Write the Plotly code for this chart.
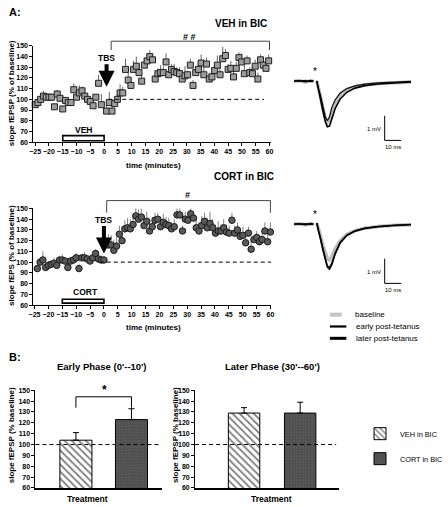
import plotly.graph_objects as go

W, H = 448, 507
FONT = "Liberation Sans"


def px(x):
    return x / W


def py(y):
    return 1 - y / H


# ---------------- data ----------------
TIME_TICKS = list(range(-25, 61, 5))
Y_TICKS = list(range(60, 151, 10))

# VEH in BIC time course (slope fEPSP, % of baseline)
VEH_T_PRE = list(range(-25, 0))
VEH_PRE = [95, 97, 100, 103, 102, 102, 102, 93, 105, 101, 91, 99, 97, 97, 109,
           102, 106, 108, 103, 100, 98, 94, 102, 115, 95]
VEH_PRE_ERR = [3, 3, 3, 5, 3, 3, 3, 0, 4, 3, 0, 3, 0, 3, 6, 4, 7, 4, 3, 3,
               0, 5, 0, 8, 10]
VEH_T_POST = [round(0.9 + 0.98 * i, 2) for i in range(61)]
VEH_POST = [89, 97, 89, 96, 100, 106, 106, 128, 118, 113, 128, 131, 125,
            117, 132, 136, 140, 137, 119, 124, 125, 125, 135, 123, 128, 126,
            125, 124, 119, 122, 123, 132, 113, 125, 128, 134, 123, 133, 119,
            121, 127, 132, 123, 138, 141, 128, 129, 121, 129, 139, 135, 124,
            136, 125, 124, 131, 119, 137, 132, 129, 136]
VEH_POST_ERR = [7, 10, 6, 5, 4, 8, 6, 10, 8, 6, 8, 9, 7, 5, 6, 5, 6, 4, 5, 5,
                7, 6, 8, 5, 5, 7, 5, 6, 6, 9, 4, 6, 5, 5, 6, 8, 9, 6, 6, 5,
                6, 9, 7, 11, 6, 5, 7, 5, 6, 5, 8, 8, 5, 5, 6, 6, 6, 5, 5, 7, 6]

# CORT in BIC time course
CORT_T_PRE = list(range(-24, 1))
CORT_PRE = [94, 100, 102, 95, 97, 98, 99, 97, 102, 102, 101, 95, 101, 102,
            104, 94, 104, 104, 103, 101, 104, 108, 103, 102, 102]
CORT_PRE_ERR = [0, 2, 8, 0, 4, 0, 5, 0, 0, 5, 3, 0, 3, 0, 4, 4, 0, 5, 0, 4,
                3, 4, 0, 4, 3]
CORT_T_POST = [round(0.6 + 0.99 * i, 2) for i in range(61)]
CORT_POST = [116, 116, 116, 111, 115, 126, 120, 131, 132, 131, 135, 143, 140,
             142, 134, 138, 129, 133, 139, 140, 133, 137, 135, 134, 131, 133,
             144, 144, 129, 140, 139, 145, 141, 132, 129, 134, 138, 132, 136,
             132, 127, 129, 129, 132, 128, 127, 139, 127, 130, 124, 125, 118,
             127, 112, 121, 123, 119, 121, 129, 119, 128]
CORT_POST_ERR = [8, 10, 9, 10, 8, 8, 8, 8, 9, 9, 9, 8, 9, 8, 10, 9, 10, 9, 7,
                 6, 8, 8, 7, 7, 6, 7, 8, 8, 5, 7, 7, 6, 6, 9, 8, 9, 8, 9, 11,
                 8, 8, 9, 6, 8, 7, 7, 7, 7, 7, 7, 8, 6, 6, 9, 4, 6, 6, 7, 8,
                 7, 9]

# fEPSP sample traces (ms, mV)
WAVE_T = [-13, -10, -6, -3, -1.2, None, 0.8, 1.5, 3, 4.5, 6, 7.2, 8.5, 10,
          12, 15, 19, 24, 30, 38, 48, 58]
VEH_BASE_WAVE = [0, 0.03, -0.03, 0.02, 0, None, 0.0, -0.25, -0.6, -1.1, -1.5,
                 -1.66, -1.55, -1.2, -0.85, -0.55, -0.35, -0.22, -0.14, -0.09,
                 -0.05, -0.03]
VEH_EARLY_WAVE = [0.02, 0, 0.03, -0.02, 0.02, None, 0.02, -0.22, -0.55, -1.05,
                  -1.45, -1.6, -1.45, -1.05, -0.75, -0.48, -0.3, -0.19, -0.12,
                  -0.07, -0.03, -0.01]
VEH_LATER_WAVE = [0, 0.02, -0.02, 0.03, 0, None, 0, -0.25, -0.65, -1.2, -1.65,
                  -1.85, -1.82, -1.5, -1.1, -0.72, -0.45, -0.28, -0.18, -0.11,
                  -0.06, -0.03]
CORT_BASE_WAVE = [0, 0.02, -0.02, 0.02, 0, None, 0.05, -0.15, -0.45, -0.85,
                  -1.2, -1.4, -1.45, -1.3, -1.0, -0.68, -0.42, -0.26, -0.16,
                  -0.09, -0.04, -0.02]
CORT_EARLY_WAVE = [0.02, 0, 0.02, -0.02, 0.02, None, 0.05, -0.2, -0.55, -1.0,
                   -1.42, -1.68, -1.75, -1.55, -1.15, -0.72, -0.44, -0.27,
                   -0.16, -0.09, -0.04, -0.01]
CORT_LATER_WAVE = [0, 0.02, -0.02, 0.03, 0, None, 0.05, -0.2, -0.58, -1.05,
                   -1.48, -1.74, -1.82, -1.62, -1.2, -0.76, -0.46, -0.28,
                   -0.17, -0.1, -0.05, -0.02]
SCALE_MV = 1
SCALE_MS = 10

# Panel B summary bars
TREAT = ["VEH in BIC", "CORT in BIC"]
EARLY = [104, 123]
EARLY_ERR = [7, 10]
LATER = [129, 129]
LATER_ERR = [5, 10]

# ---------------- figure ----------------
fig = go.Figure()

GREY_SQ = "#9c9c9c"
DARK_CIRC = "#5a5a5a"


def up_err(arr, color):
    return dict(type="data", symmetric=False, array=arr,
                arrayminus=[0] * len(arr), color=color, thickness=1, width=0)


fig.add_trace(go.Scatter(
    x=VEH_T_PRE + VEH_T_POST, y=VEH_PRE + VEH_POST, mode="markers",
    marker=dict(symbol="square", size=6, color=GREY_SQ,
                line=dict(color="#202020", width=1)),
    error_y=up_err(VEH_PRE_ERR + VEH_POST_ERR, "#666666"),
    xaxis="x", yaxis="y", showlegend=False, cliponaxis=False))

fig.add_trace(go.Scatter(
    x=CORT_T_PRE + CORT_T_POST, y=CORT_PRE + CORT_POST, mode="markers",
    marker=dict(symbol="circle", size=6.5, color=DARK_CIRC,
                line=dict(color="#1a1a1a", width=1)),
    error_y=up_err(CORT_PRE_ERR + CORT_POST_ERR, "#808080"),
    xaxis="x2", yaxis="y2", showlegend=False, cliponaxis=False))

# sample traces
for (xa, ya, base, early, later) in [("x3", "y3", VEH_BASE_WAVE, VEH_EARLY_WAVE, VEH_LATER_WAVE),
                                      ("x4", "y4", CORT_BASE_WAVE, CORT_EARLY_WAVE, CORT_LATER_WAVE)]:
    fig.add_trace(go.Scatter(x=WAVE_T, y=base, mode="lines",
                             line=dict(color="#bdbdbd", width=3.5),
                             xaxis=xa, yaxis=ya, showlegend=False))
    fig.add_trace(go.Scatter(x=WAVE_T, y=early, mode="lines",
                             line=dict(color="#111111", width=1.2),
                             xaxis=xa, yaxis=ya, showlegend=False))
    fig.add_trace(go.Scatter(x=WAVE_T, y=later, mode="lines",
                             line=dict(color="#000000", width=1.6),
                             xaxis=xa, yaxis=ya, showlegend=False))
    # scale bar
    fig.add_trace(go.Scatter(x=[42, 42, 42 + SCALE_MS],
                             y=[-1.4, -1.4 - SCALE_MV, -1.4 - SCALE_MV],
                             mode="lines", line=dict(color="black", width=1),
                             xaxis=xa, yaxis=ya, showlegend=False))

# bars
VEH_BAR = dict(color="white", line=dict(color="black", width=1),
               pattern=dict(shape="\\", fgcolor="black", bgcolor="white",
                            size=5, solidity=0.35))
CORT_BAR = dict(color="#505050", line=dict(color="black", width=1),
                pattern=dict(shape=".", fgcolor="#2e2e2e", bgcolor="#5a5a5a",
                             size=3, solidity=0.35))


def bar_err(v):
    return dict(type="data", symmetric=False, array=[v], arrayminus=[0],
                color="black", thickness=1, width=3)


fig.add_trace(go.Bar(x=[TREAT[0]], y=[EARLY[0]], width=0.577, marker=VEH_BAR,
                     error_y=bar_err(EARLY_ERR[0]), xaxis="x5", yaxis="y5",
                     name=TREAT[0], legendgroup="veh", showlegend=True))
fig.add_trace(go.Bar(x=[TREAT[1]], y=[EARLY[1]], width=0.577, marker=CORT_BAR,
                     error_y=bar_err(EARLY_ERR[1]), xaxis="x5", yaxis="y5",
                     name=TREAT[1], legendgroup="cort", showlegend=True))
fig.add_trace(go.Bar(x=[TREAT[0]], y=[LATER[0]], width=0.56, marker=VEH_BAR,
                     error_y=bar_err(LATER_ERR[0]), xaxis="x6", yaxis="y6",
                     name=TREAT[0], legendgroup="veh", showlegend=False))
fig.add_trace(go.Bar(x=[TREAT[1]], y=[LATER[1]], width=0.56, marker=CORT_BAR,
                     error_y=bar_err(LATER_ERR[1]), xaxis="x6", yaxis="y6",
                     name=TREAT[1], legendgroup="cort", showlegend=False))

# ---------------- axes ----------------
TICKFONT = dict(family=FONT, size=7, color="black", weight="bold")


def yax(dom):
    return dict(domain=dom, range=[60, 150], tickvals=Y_TICKS, ticks="outside",
                ticklen=3, tickwidth=1, tickcolor="black", showline=True,
                linecolor="black", linewidth=1, showgrid=False, zeroline=False,
                tickfont=TICKFONT, fixedrange=True)


def xtime(dom, rng, anchor):
    return dict(domain=dom, range=rng, tickvals=TIME_TICKS, ticks="outside",
                ticklen=3, tickwidth=1, tickcolor="black", showline=True,
                linecolor="black", linewidth=1, showgrid=False, zeroline=False,
                tickangle=0,
                tickfont=dict(family=FONT, size=7, color="black", weight="bold"),
                anchor=anchor, fixedrange=True)


def hidden(dom, rng, anchor):
    return dict(domain=dom, range=rng, visible=False, anchor=anchor,
                fixedrange=True)


def xbar(dom, rng, anchor):
    return dict(domain=dom, range=rng, type="category", categoryorder="array",
                categoryarray=TREAT, showticklabels=False, ticks="",
                showline=True, linecolor="black", linewidth=1.5,
                showgrid=False, zeroline=False, anchor=anchor, fixedrange=True)


WAVE_XR = [-21.8, 60.4]
WAVE_YR = [-2.668, 0.932]

fig.update_layout(
    xaxis=xtime([px(31), px(291)], [-25.66, 60.66], "y"),
    yaxis=yax([py(140), py(42.5)]) | dict(anchor="x"),
    xaxis2=xtime([px(31), px(291)], [-25.43, 60.33], "y2"),
    yaxis2=yax([py(305.3), py(207.3)]) | dict(anchor="x2"),
    xaxis3=hidden([px(300), px(448)], WAVE_XR, "y3"),
    yaxis3=hidden([py(145), py(55)], WAVE_YR, "x3"),
    xaxis4=hidden([px(300), px(448)], WAVE_XR, "y4"),
    yaxis4=hidden([py(290), py(200)], WAVE_YR, "x4"),
    xaxis5=xbar([px(33.3), px(172)], [-0.728, 1.557], "y5"),
    yaxis5=yax([py(490.7), py(391.7)]) | dict(anchor="x5"),
    xaxis6=xbar([px(207.7), px(365)], [-0.873, 1.693], "y6"),
    yaxis6=yax([py(490.7), py(391.7)]) | dict(anchor="x6"),
)

# ---------------- shapes ----------------
shapes = []
DASH = "4px,3px"
# baseline (100 %) dashed lines
shapes.append(dict(type="line", xref="x", yref="y", x0=1.5, x1=58, y0=100, y1=100,
                   line=dict(color="black", width=1, dash=DASH)))
shapes.append(dict(type="line", xref="x2", yref="y2", x0=-1.5, x1=60.3, y0=100, y1=100,
                   line=dict(color="black", width=1, dash=DASH)))
shapes.append(dict(type="line", xref="x5 domain", yref="y5", x0=0, x1=0.985, y0=100, y1=100,
                   line=dict(color="black", width=1, dash=DASH)))
shapes.append(dict(type="line", xref="x6 domain", yref="y6", x0=0, x1=0.98, y0=100, y1=100,
                   line=dict(color="black", width=1, dash=DASH)))
# drug application bars
shapes.append(dict(type="rect", xref="x", yref="y", x0=-15, x1=0, y0=61.2, y1=66,
                   line=dict(color="black", width=1.6), fillcolor="white"))
shapes.append(dict(type="rect", xref="x2", yref="y2", x0=-15, x1=0, y0=61.8, y1=65.5,
                   line=dict(color="black", width=1.6), fillcolor="white"))


def dom(v):
    return (v - 60) / 90


# significance brackets over the time courses
for xr, yr, x0, x1, ytop, ybot in [("x", "y domain", 2.56, 60, 154.4, 146.1),
                                     ("x2", "y2 domain", 1.0, 60, 157.3, 146.0)]:
    shapes.append(dict(type="path", xref=xr, yref=yr,
                       path=f"M {x0},{dom(ybot)} L {x0},{dom(ytop)} L {x1},{dom(ytop)} L {x1},{dom(ybot)}",
                       line=dict(color="#444444", width=1)))
# early-phase significance bracket
shapes.append(dict(type="path", xref="x5", yref="y5",
                   path="M 0,134 L 0,144 L 1,144 L 1,134",
                   line=dict(color="black", width=1)))

# waveform legend swatches
for y, col, wd, x1 in [(315, "#c4c4c4", 4, 368), (327, "#000000", 2.2, 373),
                       (339, "#000000", 3, 373)]:
    shapes.append(dict(type="line", xref="paper", yref="paper", x0=px(355), x1=px(x1),
                       y0=py(y), y1=py(y), line=dict(color=col, width=wd)))

fig.update_layout(shapes=shapes)

# ---------------- annotations ----------------
ann = []


def text(x, y, s, size=9, bold=True, xanchor="center", angle=0, color="black"):
    ann.append(dict(x=px(x), y=py(y), xref="paper", yref="paper", text=s,
                    showarrow=False, xanchor=xanchor, yanchor="middle",
                    textangle=angle,
                    font=dict(family=FONT, size=size, color=color,
                              weight="bold" if bold else "normal")))


text(2, 8, "A:", 11, xanchor="left")
text(288, 20, "VEH in BIC", 10, xanchor="right")
text(296, 175, "CORT in BIC", 10, xanchor="right")
text(202, 33, "# #", 9)
text(199, 194, "#", 9)
text(162, 164, "time (minutes)", 8)
text(162, 328, "time (minutes)", 8)
text(7, 90, "slope fEPSP (% of baseline)", 8, angle=-90)
text(7, 255, "slope fEPS (% of baseline)", 8, angle=-90)
text(86, 128, "VEH", 8.5)
text(88, 292, "CORT", 8.5)

text(2, 358, "B:", 11, xanchor="left")
text(106, 368, "Early Phase (0'--10')", 9.5)
text(292, 368, "Later Phase (30'--60')", 9.5)
text(109, 391, "*", 12)
text(90, 502, "Treatment", 8.5)
text(291, 502, "Treatment", 8.5)
text(8, 437, "slope fEPSP (% baseline)", 8, angle=-90)
text(187, 437, "slope fEPSP (% baseline)", 8, angle=-90)

# waveform labels
text(380, 315, "baseline", 8, bold=False, xanchor="left")
text(381, 327, "early post-tetanus", 8, bold=False, xanchor="left")
text(381, 339, "later post-tetanus", 8, bold=False, xanchor="left")

for xa, ya in [("x3", "y3"), ("x4", "y4")]:
    ann.append(dict(x=0, y=0.38, xref=xa, yref=ya, text="*", showarrow=False,
                    font=dict(family=FONT, size=10, color="black")))
    ann.append(dict(x=41, y=-1.95, xref=xa, yref=ya, text="1 mV", showarrow=False,
                    xanchor="right", font=dict(family=FONT, size=6, color="black")))
    ann.append(dict(x=47, y=-2.45, xref=xa, yref=ya, text="10 ms", showarrow=False,
                    yanchor="top", font=dict(family=FONT, size=6, color="black")))

# TBS arrows
ann.append(dict(x=0.9, y=111.7, xref="x", yref="y", text="<b>TBS</b>",
                showarrow=True, ax=0, ay=-29, arrowhead=2, arrowsize=0.8,
                arrowwidth=4, arrowcolor="black",
                font=dict(family=FONT, size=8.5, color="black")))
ann.append(dict(x=0, y=108, xref="x2", yref="y2", text="<b>TBS</b>",
                showarrow=True, ax=0, ay=-34, arrowhead=2, arrowsize=0.8,
                arrowwidth=4, arrowcolor="black",
                font=dict(family=FONT, size=8.5, color="black")))

fig.update_layout(annotations=ann)

fig.update_layout(
    width=W, height=H, margin=dict(l=0, r=0, t=0, b=0),
    paper_bgcolor="white", plot_bgcolor="white",
    font=dict(family=FONT, color="black"),
    barmode="overlay",
    showlegend=True,
    legend=dict(x=px(388), y=py(421), xanchor="left", yanchor="top",
                bgcolor="rgba(0,0,0,0)", tracegroupgap=6,
                font=dict(family=FONT, size=7.3, color="black")),
)

fig.write_html("out.html",
               config={"displayModeBar": False},
               post_script="document.body.style.margin='0';"
                           "document.body.style.overflow='hidden';")
